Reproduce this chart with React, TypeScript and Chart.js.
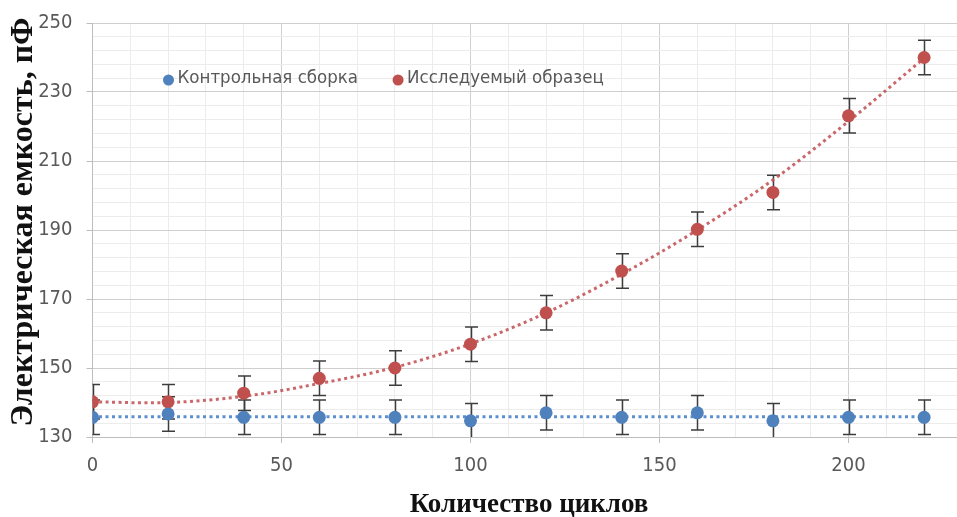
import { useEffect, useRef } from 'react';
import { Chart, registerables } from 'chart.js';

Chart.register(...registerables);

// Measurement cycles (x) and capacitance readings, pF
const cycles = [0, 20, 40, 60, 80, 100, 120, 140, 160, 180, 200, 220];
const controlValues = [135.7, 136.7, 135.7, 135.7, 135.7, 134.7, 137.0, 135.7, 137.0, 134.7, 135.7, 135.7];
const sampleValues = [140.2, 140.2, 142.7, 147.0, 150.0, 156.9, 166.0, 178.1, 190.2, 200.9, 223.1, 240.0];
const controlErrors = [5, 5, 5, 5, 5, 5, 5, 5, 5, 5, 5, 5];
const sampleErrors = [5, 5, 5, 5, 5, 5, 5, 5, 5, 5, 5, 5];

// Trend lines
const controlTrendX = [0, 220];
const controlTrend = [135.9, 135.9];
const sampleTrend = [140.2, 140.0, 141.8, 145.5, 150.2, 157.0, 166.0, 177.2, 190.0, 204.5, 221.5, 239.8];

const seriesLabels = ['Контрольная сборка', 'Исследуемый образец'];
const xTitle = 'Количество циклов';
const yTitle = 'Электрическая емкость, пФ';

// Axis ticks
const xTickValues = [0, 10, 20, 30, 40, 50, 60, 70, 80, 90, 100, 110, 120, 130, 140, 150, 160, 170, 180, 190, 200, 210, 220];
const xLabelStep = 50;
const yMin = 130;
const yMax = 250;
const yMinorStep = 4;
const yLabelStep = 20;

const BLUE = '#4F81BD';
const RED = '#C0504D';
const TICK_FONT = "'Liberation Sans Narrow', 'Arial Narrow', 'DejaVu Sans Condensed', sans-serif";
const TITLE_FONT = "'Liberation Serif', 'DejaVu Serif', serif";
const MAJOR_GRID = '#cfcfcf';
const MINOR_GRID = '#ececec';

const toPoints = (xs: number[], ys: number[]) => xs.map((x, i) => ({ x, y: ys[i] }));

const errorBarPlugin = {
  id: 'errorBars',
  beforeDatasetsDraw(chart: any) {
    const { ctx, chartArea, scales } = chart;
    const xs = scales.x;
    const ys = scales.y;
    ctx.save();
    ctx.beginPath();
    ctx.rect(chartArea.left, chartArea.top - 10, chartArea.right - chartArea.left, chartArea.bottom - chartArea.top + 10);
    ctx.clip();
    ctx.strokeStyle = '#3d3d3d';
    ctx.lineWidth = 1.5;
    chart.data.datasets.forEach((ds: any) => {
      const errs: number[] | undefined = ds.errors;
      if (!errs) return;
      ds.data.forEach((pt: any, i: number) => {
        const px = Math.round(xs.getPixelForValue(pt.x)) + 0.5;
        const top = ys.getPixelForValue(pt.y + errs[i]);
        const bot = ys.getPixelForValue(pt.y - errs[i]);
        ctx.beginPath();
        ctx.moveTo(px, top);
        ctx.lineTo(px, bot);
        ctx.moveTo(px - 6.5, top);
        ctx.lineTo(px + 6.5, top);
        ctx.moveTo(px - 6.5, bot);
        ctx.lineTo(px + 6.5, bot);
        ctx.stroke();
      });
    });
    ctx.restore();
  },
};

const insideLegendPlugin = {
  id: 'insideLegend',
  afterDraw(chart: any) {
    const { ctx, chartArea } = chart;
    const items = chart.data.datasets.filter((ds: any) => ds.label);
    ctx.save();
    ctx.font = `18.5px ${TICK_FONT}`;
    ctx.textBaseline = 'middle';
    ctx.textAlign = 'left';
    let x = chartArea.left + 76;
    const y = chartArea.top + 55;
    items.forEach((ds: any) => {
      ctx.fillStyle = ds.backgroundColor;
      ctx.beginPath();
      ctx.arc(x, y + 2, 5.5, 0, Math.PI * 2);
      ctx.fill();
      ctx.fillStyle = '#595959';
      ctx.fillText(ds.label, x + 9, y);
      x += 9 + ctx.measureText(ds.label).width + 40;
    });
    ctx.restore();
  },
};

const axisTitlePlugin = {
  id: 'axisTitles',
  afterDraw(chart: any) {
    const { ctx } = chart;
    ctx.save();
    ctx.fillStyle = '#111111';
    ctx.textAlign = 'center';
    ctx.textBaseline = 'middle';
    ctx.font = `bold 27px ${TITLE_FONT}`;
    ctx.fillText(xTitle, 529, 505);
    ctx.translate(24, 222);
    ctx.rotate(-Math.PI / 2);
    ctx.font = `bold 32px ${TITLE_FONT}`;
    ctx.fillText(yTitle, 0, 0);
    ctx.restore();
  },
};

export default function App() {
  const canvasRef = useRef<HTMLCanvasElement | null>(null);

  useEffect(() => {
    document.body.style.margin = '0';
    const canvas = canvasRef.current;
    if (!canvas) return;

    const chart = new Chart(canvas, {
      type: 'scatter',
      data: {
        datasets: [
          {
            label: seriesLabels[0],
            data: toPoints(cycles, controlValues),
            errors: controlErrors,
            backgroundColor: BLUE,
            borderColor: BLUE,
            pointRadius: 6.5,
            pointBorderWidth: 0,
            showLine: false,
            order: 1,
          } as any,
          {
            label: seriesLabels[1],
            data: toPoints(cycles, sampleValues),
            errors: sampleErrors,
            backgroundColor: RED,
            borderColor: RED,
            pointRadius: 6.5,
            pointBorderWidth: 0,
            showLine: false,
            order: 1,
          } as any,
          {
            label: '',
            data: toPoints(controlTrendX, controlTrend),
            borderColor: '#5b8fd0',
            borderWidth: 3,
            borderDash: [3, 3.5],
            borderCapStyle: 'butt',
            pointRadius: 0,
            showLine: true,
            order: 2,
          },
          {
            label: '',
            data: toPoints(cycles, sampleTrend),
            borderColor: 'rgba(196,86,90,0.9)',
            borderWidth: 3,
            borderDash: [3, 3.5],
            borderCapStyle: 'butt',
            pointRadius: 0,
            showLine: true,
            tension: 0.35,
            order: 2,
          },
        ],
      },
      options: {
        responsive: false,
        animation: false,
        devicePixelRatio: 1,
        layout: { autoPadding: false, padding: { top: 23, right: 0, left: 0, bottom: 0 } },
        plugins: {
          legend: { display: false },
          tooltip: { enabled: false },
        },
        scales: {
          x: {
            type: 'linear',
            min: 0,
            max: 228.7,
            afterBuildTicks: (scale: any) => {
              scale.ticks = xTickValues.map((v) => ({ value: v }));
            },
            afterFit: (scale: any) => {
              scale.height = 80;
              scale.paddingLeft = 0;
              scale.paddingRight = 0;
            },
            ticks: {
              autoSkip: false,
              maxRotation: 0,
              padding: 11,
              color: '#595959',
              font: { family: TICK_FONT, size: 20 },
              callback: (v: any) => (Number(v) % xLabelStep === 0 ? String(v) : ''),
            },
            grid: {
              color: (c: any) => (c.tick && c.tick.value % xLabelStep === 0 ? MAJOR_GRID : MINOR_GRID),
              tickColor: (c: any) => (c.tick && c.tick.value % xLabelStep === 0 ? '#bdbdbd' : 'rgba(0,0,0,0)'),
              tickLength: 6,
              lineWidth: 1,
            },
            border: { color: '#bdbdbd', width: 1 },
          },
          y: {
            type: 'linear',
            min: yMin,
            max: yMax,
            afterBuildTicks: (scale: any) => {
              const t = [];
              for (let v = yMin; v <= yMax; v += yMinorStep) t.push({ value: v });
              scale.ticks = t;
            },
            afterFit: (scale: any) => {
              scale.width = 92.5;
              scale.paddingTop = 0;
              scale.paddingBottom = 0;
            },
            ticks: {
              autoSkip: false,
              padding: 14,
              color: '#595959',
              font: { family: TICK_FONT, size: 20 },
              callback: (v: any) => ((Number(v) - yMin) % yLabelStep === 0 ? String(v) : ''),
            },
            grid: {
              color: (c: any) => (c.tick && (c.tick.value - yMin) % yLabelStep === 0 ? MAJOR_GRID : MINOR_GRID),
              tickColor: (c: any) => (c.tick && (c.tick.value - yMin) % yLabelStep === 0 ? '#bdbdbd' : 'rgba(0,0,0,0)'),
              tickLength: 6,
              lineWidth: 1,
            },
            border: { color: '#bdbdbd', width: 1 },
          },
        },
      } as any,
      plugins: [errorBarPlugin, insideLegendPlugin, axisTitlePlugin],
    });

    return () => chart.destroy();
  }, []);

  return (
    <div style={{ position: 'absolute', left: 0, top: 0, width: 957, height: 517, background: '#ffffff' }}>
      <canvas ref={canvasRef} width={957} height={517} style={{ display: 'block' }} />
    </div>
  );
}
